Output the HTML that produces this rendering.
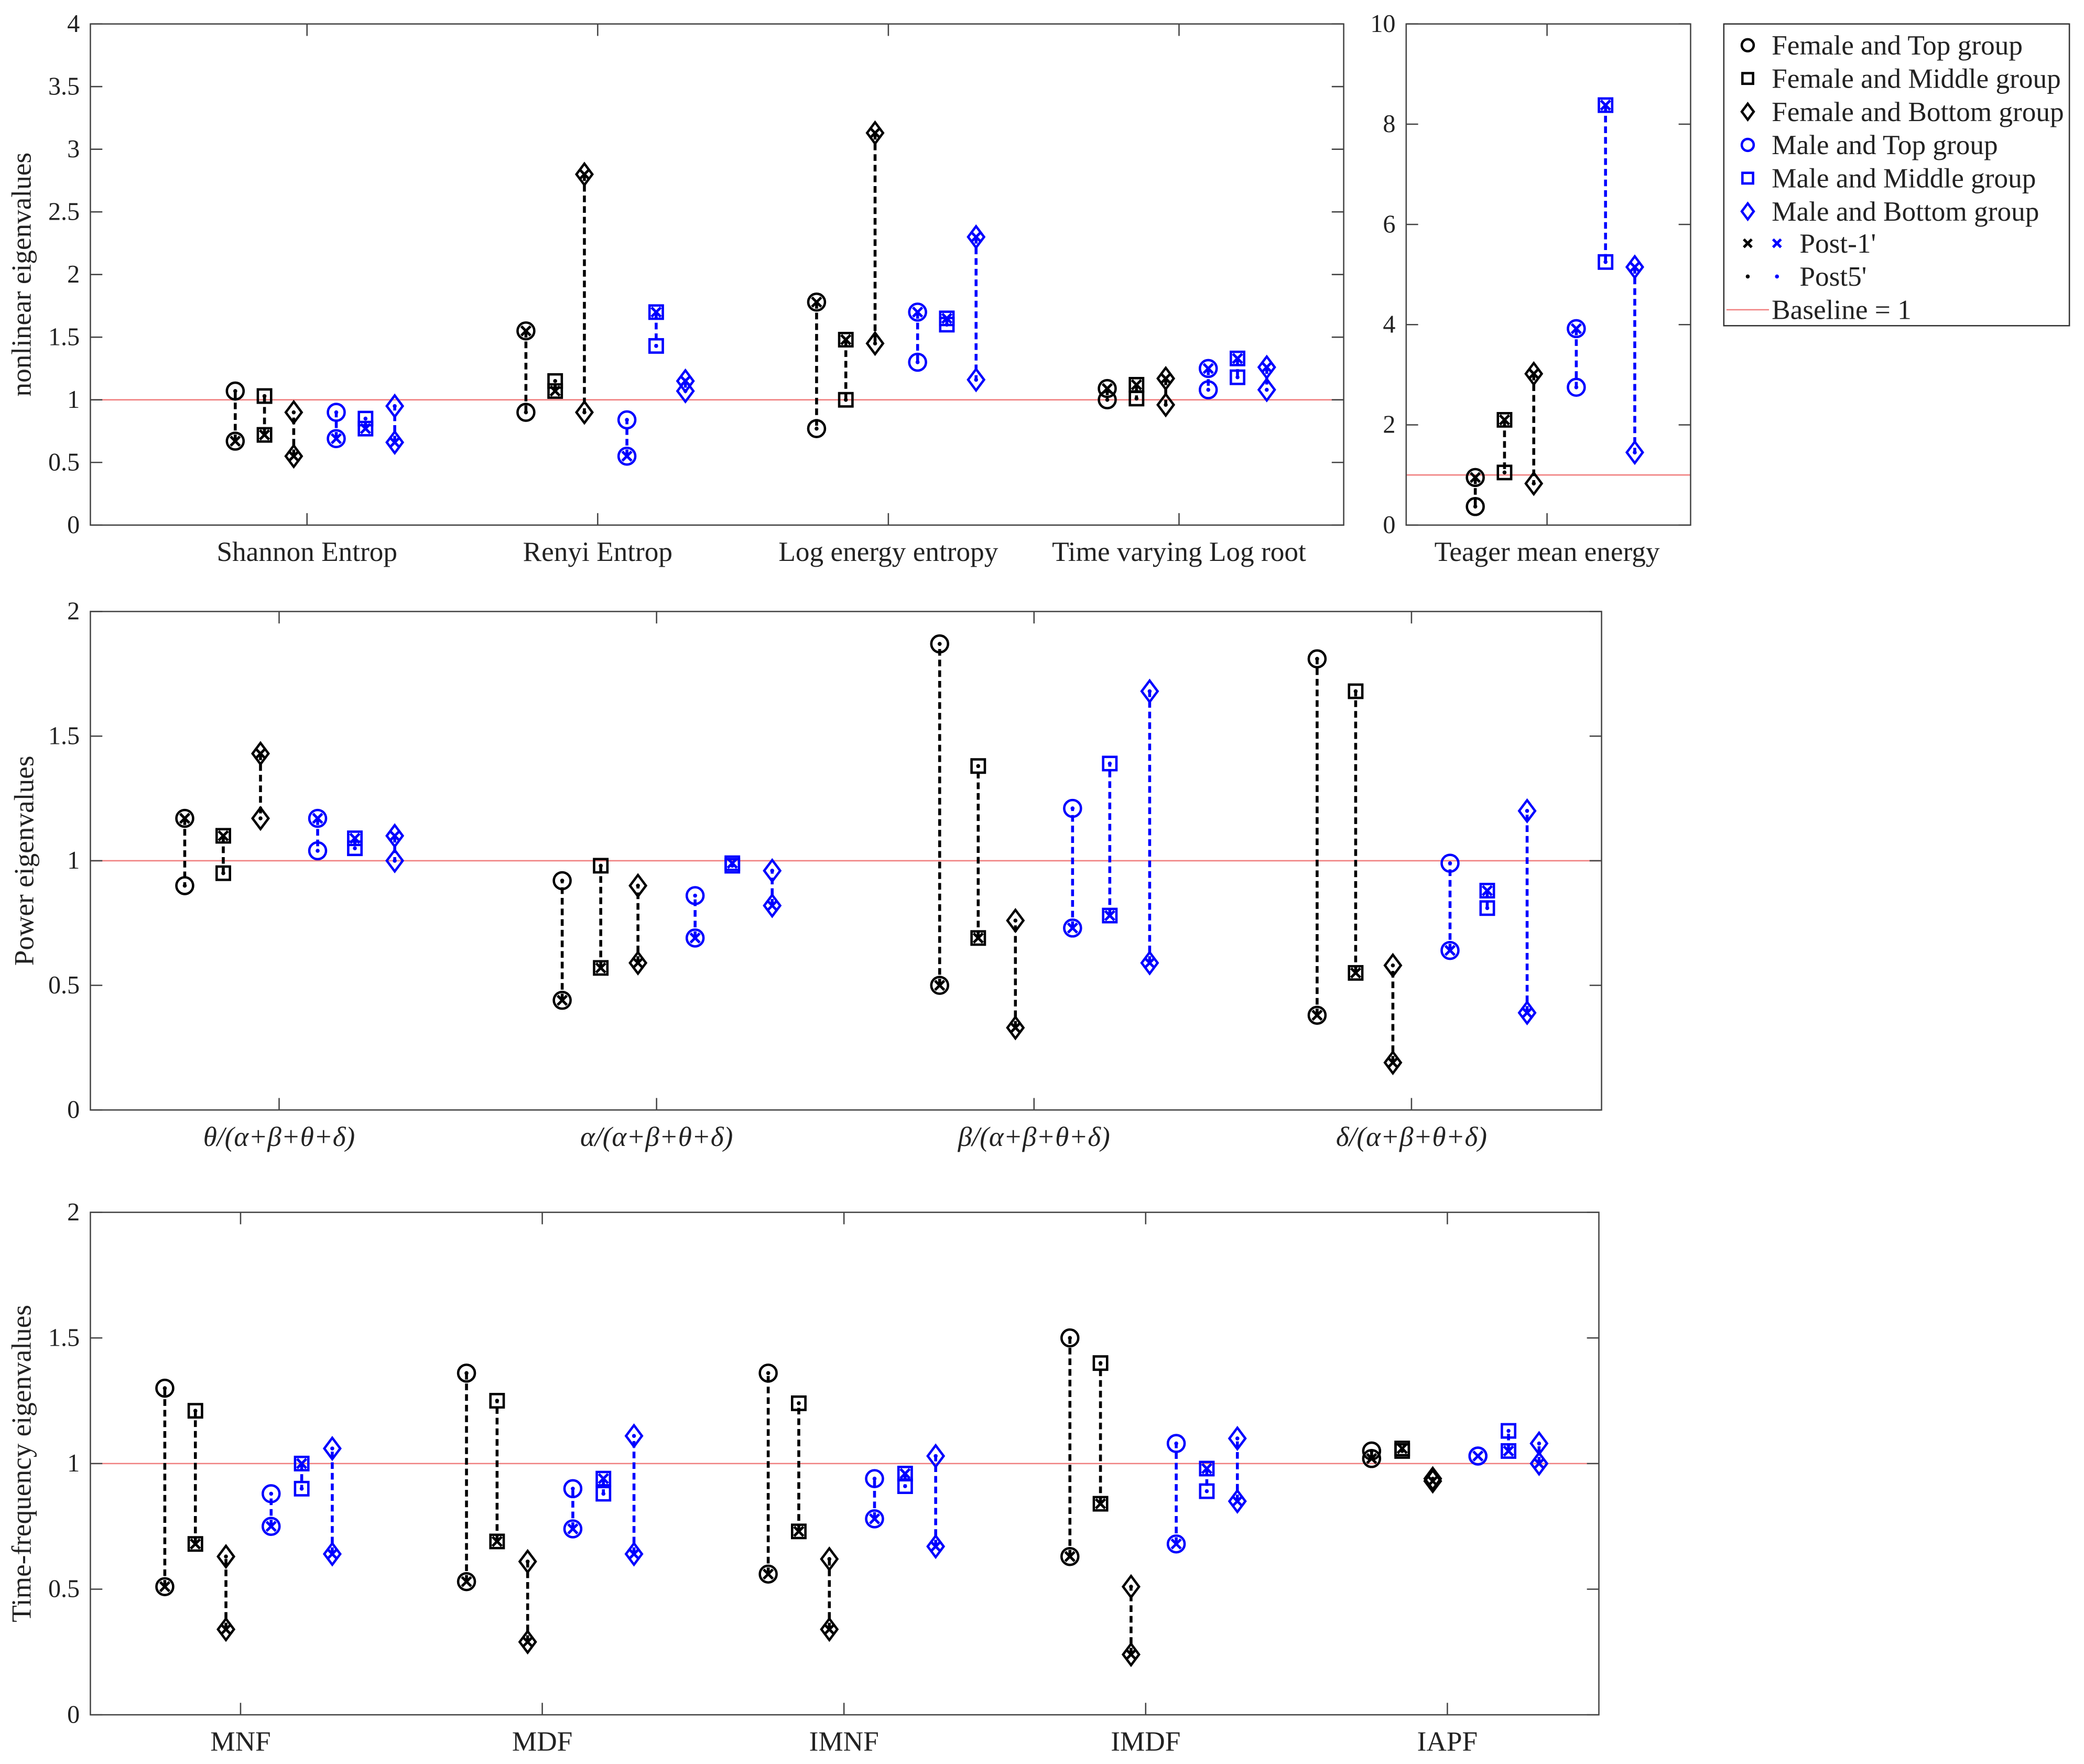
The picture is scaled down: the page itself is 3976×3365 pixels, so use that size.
<!DOCTYPE html>
<html><head><meta charset="utf-8"><style>
html,body{margin:0;padding:0;background:#fff;}
svg{display:block;font-family:"Liberation Serif",serif;}
</style></head><body>
<svg id="fig" xmlns="http://www.w3.org/2000/svg" width="3976" height="3365" viewBox="0 0 1568 1327"></svg>
<script>
// ---- Data ----
const groupNames = ["Female and Top group","Female and Middle group","Female and Bottom group","Male and Top group","Male and Middle group","Male and Bottom group"];
const p1Cats = ["Shannon Entrop","Renyi Entrop","Log energy entropy","Time varying Log root"];
const p1Post1 = [[0.67,0.72,0.55,0.69,0.77,0.66],[1.55,1.07,2.8,0.55,1.7,1.15],[1.78,1.48,3.13,1.7,1.65,2.3],[1.09,1.12,1.17,1.25,1.33,1.26]];
const p1Post5 = [[1.07,1.03,0.9,0.9,0.85,0.95],[0.9,1.15,0.9,0.84,1.43,1.07],[0.77,1.0,1.45,1.3,1.6,1.16],[1.0,1.01,0.96,1.08,1.18,1.08]];
const p1Ticks = [0,0.5,1,1.5,2,2.5,3,3.5,4];
const tCats = ["Teager mean energy"];
const tPost1 = [[0.95,2.1,3.02,3.92,8.38,5.15]];
const tPost5 = [[0.37,1.05,0.83,2.75,5.25,1.45]];
const tTicks = [0,2,4,6,8,10];
const p2Cats = ["θ/(α+β+θ+δ)","α/(α+β+θ+δ)","β/(α+β+θ+δ)","δ/(α+β+θ+δ)"];
const p2Post1 = [[1.17,1.1,1.43,1.17,1.09,1.1],[0.44,0.57,0.59,0.69,0.99,0.82],[0.5,0.69,0.33,0.73,0.78,0.59],[0.38,0.55,0.19,0.64,0.88,0.39]];
const p2Post5 = [[0.9,0.95,1.17,1.04,1.05,1.0],[0.92,0.98,0.9,0.86,0.98,0.96],[1.87,1.38,0.76,1.21,1.39,1.68],[1.81,1.68,0.58,0.99,0.81,1.2]];
const p2Ticks = [0,0.5,1,1.5,2];
const p3Cats = ["MNF","MDF","IMNF","IMDF","IAPF"];
const p3Post1 = [[0.51,0.68,0.34,0.75,1.0,0.64],[0.53,0.69,0.29,0.74,0.94,0.64],[0.56,0.73,0.34,0.78,0.96,0.67],[0.63,0.84,0.24,0.68,0.98,0.85],[1.02,1.06,0.93,1.03,1.05,1.0]];
const p3Post5 = [[1.3,1.21,0.63,0.88,0.9,1.06],[1.36,1.25,0.61,0.9,0.88,1.11],[1.36,1.24,0.62,0.94,0.91,1.03],[1.5,1.4,0.51,1.08,0.89,1.1],[1.05,1.05,0.94,1.03,1.13,1.08]];
const p3Ticks = [0,0.5,1,1.5,2];

// ---- Drawing ----
const NS="http://www.w3.org/2000/svg";
const svg=document.getElementById('fig');
function mk(tag,attrs,parent){const e=document.createElementNS(NS,tag);for(const k in attrs)e.setAttribute(k,attrs[k]);(parent||svg).appendChild(e);return e;}
const shapes=["circle","square","diamond","circle","square","diamond"];
const colors=["#000","#000","#000","#00f","#00f","#00f"];

function marker(g,shape,cx,cy,col,inner){
  let m;
  if(shape==="circle") m=mk('circle',{cx:cx,cy:cy,r:6.3,fill:'none',stroke:col,'stroke-width':1.8},g);
  else if(shape==="square") m=mk('rect',{x:cx-5,y:cy-5,width:10,height:10,fill:'none',stroke:col,'stroke-width':1.8},g);
  else m=mk('polygon',{points:`${cx},${cy-8} ${cx+6},${cy} ${cx},${cy+8} ${cx-6},${cy}`,fill:'none',stroke:col,'stroke-width':1.8},g);
  
  
  if(inner==="x"){
    const p=mk('path',{d:`M${cx-3.5},${cy-3.5}L${cx+3.5},${cy+3.5}M${cx+3.5},${cy-3.5}L${cx-3.5},${cy+3.5}`,stroke:col,'stroke-width':2},g);
    
    
  } else {
    const d=mk('circle',{cx:cx,cy:cy,r:1.5,fill:col},g);
    
    
  }
}

function panel(o){
  const g=mk('g',{});
  
  
  const {x0,x1,y0,y1,ymax,cats,offs,catX}=o;
  const ys=v=>y0-(v/ymax)*(y0-y1);
  const bl=mk('line',{x1:x0,x2:x1,y1:ys(1),y2:ys(1),stroke:'#f08080','stroke-width':1},g);
  
  
  const fr=mk('rect',{x:x0,y:y1,width:x1-x0,height:y0-y1,fill:'none',stroke:'#444','stroke-width':1},g);
  
  
  o.ticks.forEach(t=>{
    const y=ys(t);
    mk('line',{x1:x0,x2:x0+9,y1:y,y2:y,stroke:'#444','stroke-width':1},g);
    mk('line',{x1:x1,x2:x1-9,y1:y,y2:y,stroke:'#444','stroke-width':1},g);
    const tx=mk('text',{x:x0-8,y:y+6,'text-anchor':'end','font-size':19,fill:'#222'},g);
    tx.textContent=String(t);
    
    
  });
  cats.forEach((c,i)=>{
    const cx=catX(i);
    mk('line',{x1:cx,x2:cx,y1:y0,y2:y0-9,stroke:'#444','stroke-width':1},g);
    mk('line',{x1:cx,x2:cx,y1:y1,y2:y1+9,stroke:'#444','stroke-width':1},g);
    const tx=mk('text',{x:cx,y:y0+27,'text-anchor':'middle','font-size':21,fill:'#222','font-style':o.italic?'italic':'normal'},g);
    tx.textContent=c;
    
    
    for(let k=0;k<6;k++){
      const px=cx+offs[k];
      const a=ys(o.post1[i][k]), b=ys(o.post5[i][k]);
      const ln=mk('line',{x1:px,x2:px,y1:a,y2:b,stroke:colors[k],'stroke-width':2.2,'stroke-dasharray':'5,3'},g);
      
      
      marker(g,shapes[k],px,b,colors[k],'dot');
      marker(g,shapes[k],px,a,colors[k],'x');
    }
  });
  const yl=mk('text',{transform:`translate(${o.ylx},${(y0+y1)/2}) rotate(-90)`,'text-anchor':'middle','font-size':21,fill:'#222'},g);
  yl.textContent=o.ylabel||'';
  
  
}

panel({name:'entropy-panel',x0:68,x1:1011,y0:395,y1:18,ymax:4,ticks:p1Ticks,cats:p1Cats,post1:p1Post1,post5:p1Post5,
  offs:[-54,-32,-10,22,44,66],catX:i=>231+i*218.7,ylabel:'nonlinear eigenvalues',ylx:23});
panel({name:'teager-panel',x0:1058,x1:1272,y0:395,y1:18,ymax:10,ticks:tTicks,cats:tCats,post1:tPost1,post5:tPost5,
  offs:[-54,-32,-10,22,44,66],catX:i=>1164,ylabel:'',ylx:1000});
panel({name:'power-panel',x0:68,x1:1205,y0:835,y1:460,ymax:2,ticks:p2Ticks,cats:p2Cats,post1:p2Post1,post5:p2Post5,
  offs:[-71,-42,-14,29,57,87],catX:i=>210+i*284,ylabel:'Power eigenvalues',ylx:25,italic:true});
panel({name:'time-frequency-panel',x0:68,x1:1203,y0:1290,y1:912,ymax:2,ticks:p3Ticks,cats:p3Cats,post1:p3Post1,post5:p3Post5,
  offs:[-57,-34,-11,23,46,69],catX:i=>181+i*227,ylabel:'Time-frequency eigenvalues',ylx:23});

// legend
const lg=mk('g',{});


mk('rect',{x:1297,y:18,width:260,height:227,fill:'#fff',stroke:'#333','stroke-width':1},lg);
groupNames.forEach((n,k)=>{
  const y=34+k*25;
  let m;
  const cx=1315,col=colors[k];
  if(shapes[k]==="circle") m=mk('circle',{cx:cx,cy:y,r:4.5,fill:'none',stroke:col,'stroke-width':1.8},lg);
  else if(shapes[k]==="square") m=mk('rect',{x:cx-4,y:y-4,width:8,height:8,fill:'none',stroke:col,'stroke-width':1.8},lg);
  else m=mk('polygon',{points:`${cx},${y-6} ${cx+4.5},${y} ${cx},${y+6} ${cx-4.5},${y}`,fill:'none',stroke:col,'stroke-width':1.8},lg);
  
  
  const t=mk('text',{x:1333,y:y+7,'font-size':21,fill:'#222'},lg);
  t.textContent=n;
  
  
});
[["x",183,"Post-1'"],["dot",208,"Post5'"]].forEach(([kind,y,label])=>{
  [[1315,'#000'],[1337,'#00f']].forEach(([cx,col])=>{
    if(kind==="x") mk('path',{d:`M${cx-3},${y-3}L${cx+3},${y+3}M${cx+3},${y-3}L${cx-3},${y+3}`,stroke:col,'stroke-width':2},lg);
    else mk('circle',{cx:cx,cy:y,r:1.5,fill:col},lg);
  });
  const t=mk('text',{x:1354,y:y+7,'font-size':21,fill:'#222'},lg);
  t.textContent=label;
  
  
});
mk('line',{x1:1299,x2:1331,y1:233,y2:233,stroke:'#f08080','stroke-width':1},lg);
const bt=mk('text',{x:1333,y:240,'font-size':21,fill:'#222'},lg);
bt.textContent="Baseline = 1";


</script>
</body></html>
